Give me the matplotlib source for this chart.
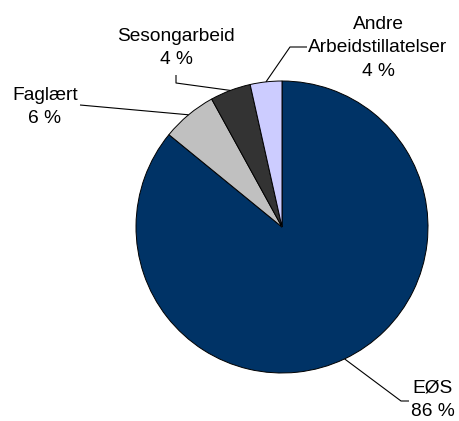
import numpy as np
import matplotlib
matplotlib.use("Agg")
import matplotlib.pyplot as plt

categories = ["EØS", "Faglært", "Sesongarbeid", "Andre\nArbeidstillatelser"]
values = [85.9, 6.1, 4.5, 3.5]
pct_labels = ["86 %", "6 %", "4 %", "4 %"]
colors = ["#003366", "#C0C0C0", "#333333", "#CCCCFF"]

W, H = 460, 421
CX, CY, R = 282, 227, 146

fig = plt.figure(figsize=(W / 100, H / 100), dpi=100)
ax = fig.add_axes([0, 0, 1, 1])

def px(x, y):
    return ((x - CX) / R, (CY - y) / R)

wedges, _ = ax.pie(values, colors=colors, startangle=90, counterclock=False,
                   radius=1, center=(0, 0), frame=True,
                   wedgeprops=dict(edgecolor="black", linewidth=0.7))
ax.set_xlim((0 - CX) / R, (W - CX) / R)
ax.set_ylim((CY - H) / R, CY / R)
ax.set_aspect("equal")
ax.axis("off")

# label positions (pixels) and leader elbows
text_pos = [(433, 400), (45, 107), (176, 48), (378, 48)]
elbows = [[(401, 401), (409, 401)],
          [(80, 105)],
          [(176, 83), (176, 75)],
          [(290, 47), (307, 47)]]

for w, cat, pl, tp, el in zip(wedges, categories, pct_labels, text_pos, elbows):
    ang = np.deg2rad((w.theta1 + w.theta2) / 2)
    pts = [(np.cos(ang), np.sin(ang))] + [px(*e) for e in el]
    xs, ys = zip(*pts)
    ax.plot(xs, ys, color="black", lw=0.8, solid_capstyle="butt")
    ax.text(*px(*tp), f"{cat}\n{pl}", ha="center", va="center",
            fontsize=13.8, family="Liberation Sans", linespacing=1.5,
            color="black")

fig.savefig("out.png", dpi=100)
